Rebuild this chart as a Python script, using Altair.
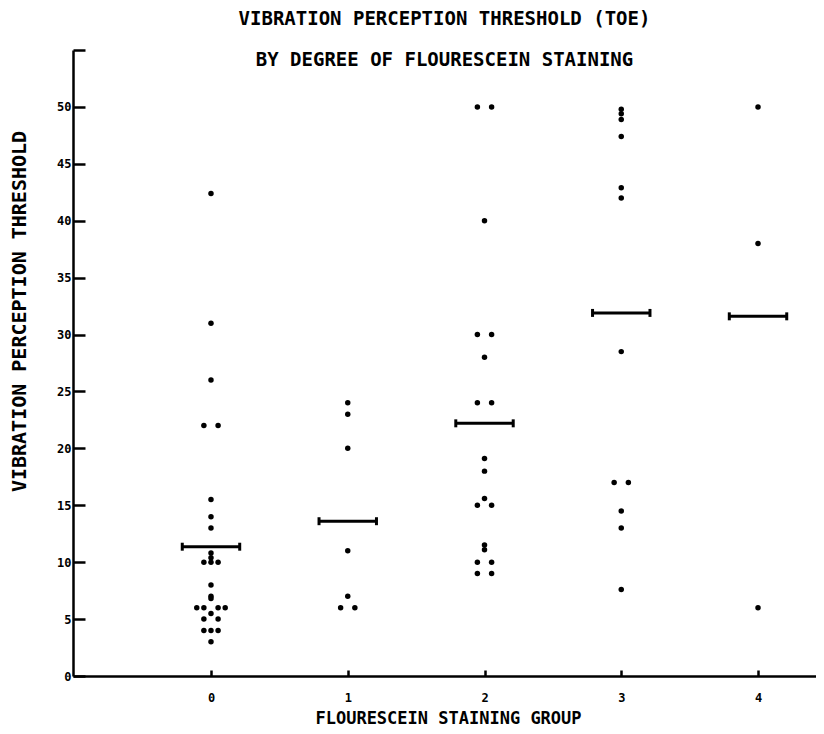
import altair as alt
import pandas as pd

# ---- data ----
groups = [0, 1, 2, 3, 4]

# values per group, with a horizontal slot (-2..2) for dots drawn side by side
g0_values = [42.4, 31, 26, 22, 22, 15.5, 14, 13, 10.8, 10.4, 10, 10, 10, 8, 7, 6.8,
             6, 6, 6, 6, 5.5, 5, 5, 4, 4, 4, 3]
g0_slots = [0, 0, 0, -1, 1, 0, 0, 0, 0, 0, -1, 0, 1, 0, 0, 0,
            -2, -1, 1, 2, 0, -1, 1, -1, 0, 1, 0]
g1_values = [24, 23, 20, 11, 7, 6, 6]
g1_slots = [0, 0, 0, 0, 0, -1, 1]
g2_values = [50, 50, 40, 30, 30, 28, 24, 24, 19.1, 18, 15.6, 15, 15, 11.5, 11.1, 10, 10, 9, 9]
g2_slots = [-1, 1, 0, -1, 1, 0, -1, 1, 0, 0, 0, -1, 1, 0, 0, -1, 1, -1, 1]
g3_values = [49.8, 49.4, 48.9, 47.4, 42.9, 42.0, 28.5, 17, 17, 14.5, 13, 7.6]
g3_slots = [0, 0, 0, 0, 0, 0, 0, -1, 1, 0, 0, 0]
g4_values = [50, 38, 6]
g4_slots = [0, 0, 0]

group_means = [11.36, 13.6, 22.2, 31.9, 31.6]

y_ticks = [0, 5, 10, 15, 20, 25, 30, 35, 40, 45, 50, 55]

# ---- build tables ----
rows = []
for g, vals, slots in zip(groups,
                          [g0_values, g1_values, g2_values, g3_values, g4_values],
                          [g0_slots, g1_slots, g2_slots, g3_slots, g4_slots]):
    for v, s in zip(vals, slots):
        rows.append({"group": g, "value": v, "slot": s})
dots = pd.DataFrame(rows)
means = pd.DataFrame({"group": groups, "mean": group_means})

FONT = "DejaVu Sans Mono"
W, H = 743, 626
HALF = 0.21
CAP = 0.35

xscale = alt.Scale(domain=[-1.009, 4.424], nice=False, zero=False)
yscale = alt.Scale(domain=[0, 55], nice=False, zero=True)

x_axis = alt.Axis(
    orient="top", offset=-H, values=groups, tickSize=6, tickWidth=2.5,
    tickColor="black", domainColor="black", domainWidth=2.5,
    labelPadding=-22, labelBaseline="top", labelAlign="center",
    labelFont=FONT, labelFontSize=12,
    labelFontWeight="bold", labelColor="black", labelFlush=False,
    grid=False, title="FLOURESCEIN STAINING GROUP", titleFont=FONT,
    titleFontSize=17, titleFontWeight="bold", titleColor="black",
    titleX=375, titleY=42, titleAlign="center", titleBaseline="middle",
    titleAngle=0,
)

y_axis = alt.Axis(
    orient="right", offset=-W, values=y_ticks, tickSize=12, tickWidth=2.5,
    tickColor="black", domainColor="black", domainWidth=2.5,
    labelPadding=-14, labelAlign="right", labelBaseline="middle",
    labelExpr="datum.value == 55 ? '' : datum.label",
    labelFont=FONT, labelFontSize=12, labelFontWeight="bold",
    labelColor="black", labelFlush=False, labelOverlap=False, grid=False,
    title="VIBRATION PERCEPTION THRESHOLD", titleFont=FONT, titleFontSize=20,
    titleFontWeight="bold", titleColor="black", titleAngle=270,
    titleX=-54, titleY=261, titleAlign="center", titleBaseline="middle",
)

points = alt.Chart(dots).transform_calculate(
    xpos="datum.group + datum.slot * 0.052"
).mark_circle(size=30, color="black", opacity=1).encode(
    x=alt.X("xpos:Q", scale=xscale, axis=x_axis),
    y=alt.Y("value:Q", scale=yscale, axis=y_axis),
)

bars = alt.Chart(means).transform_calculate(
    lo=f"datum.group - {HALF}", hi=f"datum.group + {HALF}"
).mark_rule(color="black", strokeWidth=3).encode(
    x=alt.X("lo:Q", scale=xscale, axis=x_axis),
    x2="hi:Q",
    y=alt.Y("mean:Q", scale=yscale, axis=y_axis),
)

cap_left = alt.Chart(means).transform_calculate(
    xc=f"datum.group - {HALF}", ylo=f"datum.mean - {CAP}", yhi=f"datum.mean + {CAP}"
).mark_rule(color="black", strokeWidth=3).encode(
    x=alt.X("xc:Q", scale=xscale, axis=x_axis),
    y=alt.Y("ylo:Q", scale=yscale, axis=y_axis),
    y2="yhi:Q",
)

cap_right = alt.Chart(means).transform_calculate(
    xc=f"datum.group + {HALF}", ylo=f"datum.mean - {CAP}", yhi=f"datum.mean + {CAP}"
).mark_rule(color="black", strokeWidth=3).encode(
    x=alt.X("xc:Q", scale=xscale, axis=x_axis),
    y=alt.Y("ylo:Q", scale=yscale, axis=y_axis),
    y2="yhi:Q",
)

chart = alt.layer(points, bars, cap_left, cap_right).properties(
    width=W, height=H,
    title=alt.TitleParams(
        text=["VIBRATION PERCEPTION THRESHOLD (TOE)", "BY DEGREE OF FLOURESCEIN STAINING"],
        font=FONT, fontSize=19, fontWeight="bold", color="black",
        lineHeight=41, anchor="middle", offset=-26,
    ),
    autosize=alt.AutoSizeParams(type="none"),
    padding={"left": 65, "top": 42, "right": 0, "bottom": 52},
    background="white",
).configure_view(stroke=None)

chart.save("out.html", embed_options={"renderer": "svg", "actions": False})
